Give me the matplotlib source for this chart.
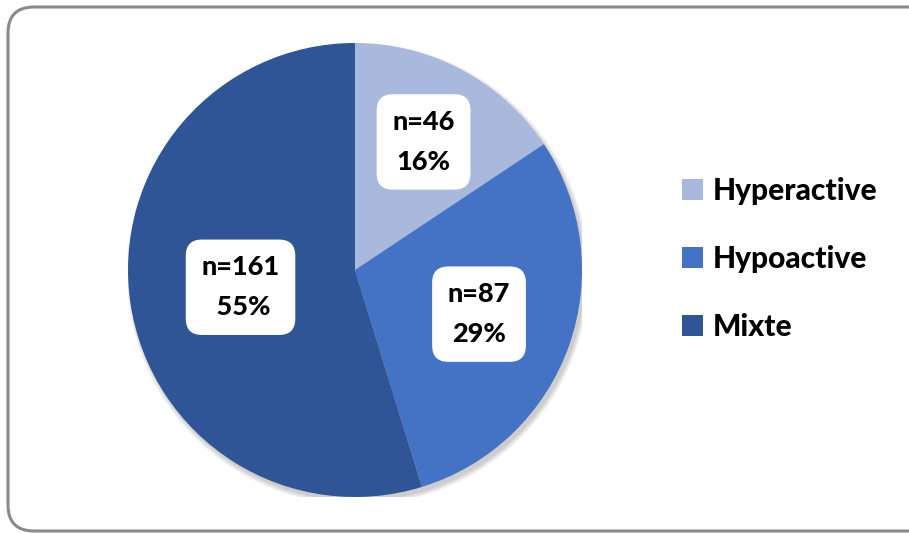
import numpy as np
import matplotlib
matplotlib.use("Agg")
import matplotlib.pyplot as plt
from matplotlib.patches import FancyBboxPatch, Circle

labels = ["Hyperactive", "Hypoactive", "Mixte"]
counts = [46, 87, 161]
percents = ["16%", "29%", " 55%"]
colors = ["#A9B9DE", "#4472C4", "#2F5597"]
# how far out from the centre each label box sits (fraction of radius)
label_dist = [0.64, 0.58, 0.51]

plt.rcParams['font.family'] = ['Lato', 'DejaVu Sans']

W, H = 909, 533
fig = plt.figure(figsize=(W / 100, H / 100), dpi=100)

# background frame in pixel coords
bg = fig.add_axes([0, 0, 1, 1])
bg.set_xlim(0, W)
bg.set_ylim(H, 0)
bg.axis("off")
frame = FancyBboxPatch((8, 7), 960, 524, boxstyle="round,pad=0,rounding_size=26",
                       fc="white", ec="#8a8a8a", lw=2.2)
bg.add_patch(frame)

# pie axes: centre (355, 270) px, radius 227 px
cx, cy, R = 355, 270, 227
ax = fig.add_axes([(cx - R) / W, (H - cy - R) / H, 2 * R / W, 2 * R / H])

# soft shadow
for i in range(4):
    ax.add_patch(Circle((0.012, -0.018), 1.0 + 0.006 * i, fc="black", alpha=0.05, lw=0, zorder=0))

wedges, _ = ax.pie(counts, colors=colors, startangle=90, counterclock=False,
                   radius=1, wedgeprops=dict(lw=0))
for w in wedges:
    w.set_zorder(2)
ax.set_xlim(-1, 1)
ax.set_ylim(-1, 1)
ax.axis("off")

for w, n, p, d in zip(wedges, counts, percents, label_dist):
    ang = np.deg2rad((w.theta1 + w.theta2) / 2)
    ax.text(d * np.cos(ang), d * np.sin(ang), f"n={n}\n{p}", ha="center", va="center",
            fontsize=19.5, fontweight="black", linespacing=1.8, zorder=5,
            bbox=dict(boxstyle="round,pad=0.58,rounding_size=0.6", fc="white", ec="none"))

fig.legend(wedges, labels, loc="center left", bbox_to_anchor=(655 / W, (H - 259) / H),
           frameon=False, prop=dict(size=21.5, weight="black"),
           handlelength=0.7, handleheight=0.7, handletextpad=0.35, labelspacing=1.33)

fig.savefig("out.png", dpi=100)
